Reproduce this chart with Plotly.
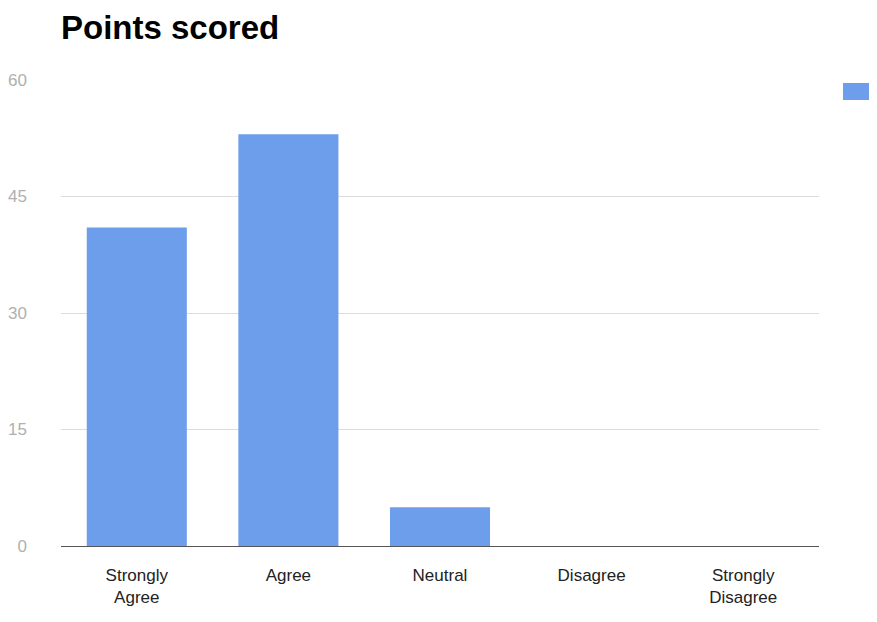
import plotly.graph_objects as go

categories = ["Strongly<br>Agree", "Agree", "Neutral", "Disagree", "Strongly<br>Disagree"]
points = [41, 53, 5, 0, 0]
y_ticks = [0, 15, 30, 45, 60]

fig = go.Figure()
fig.add_trace(go.Bar(
    x=categories, y=points, name="Points scored",
    marker=dict(color="#6d9eeb", line=dict(width=0)),
    showlegend=False,
))

fig.update_layout(
    width=877, height=622,
    paper_bgcolor="white", plot_bgcolor="white",
    margin=dict(l=53, r=66, t=72, b=84),
    bargap=0.34,
    title=dict(text="<b>Points scored</b>", x=0, xref="paper", xanchor="left",
               y=0.988, yanchor="top",
               font=dict(family="Liberation Sans, Arial", size=33, color="#000")),
    font=dict(family="Liberation Sans, Arial"),
    xaxis=dict(showgrid=False, showline=False, ticks="", automargin=False,
               tickfont=dict(size=17, color="#222"), ticklabelstandoff=17),
    yaxis=dict(range=[0, 60], tickvals=y_ticks, showgrid=True, gridcolor="#dcdcdc",
               gridwidth=1, zeroline=True, zerolinecolor="#555", zerolinewidth=1,
               showline=False, ticks="", ticklabelstandoff=33, automargin=False,
               tickfont=dict(size=17, color="#b0b0b0")),
    shapes=[dict(type="rect", xref="paper", yref="paper", x0=1.0317, x1=1.09,
                 y0=0.957, y1=0.9936, fillcolor="#6d9eeb", line=dict(width=0))],
)

fig.write_html("out.html")
